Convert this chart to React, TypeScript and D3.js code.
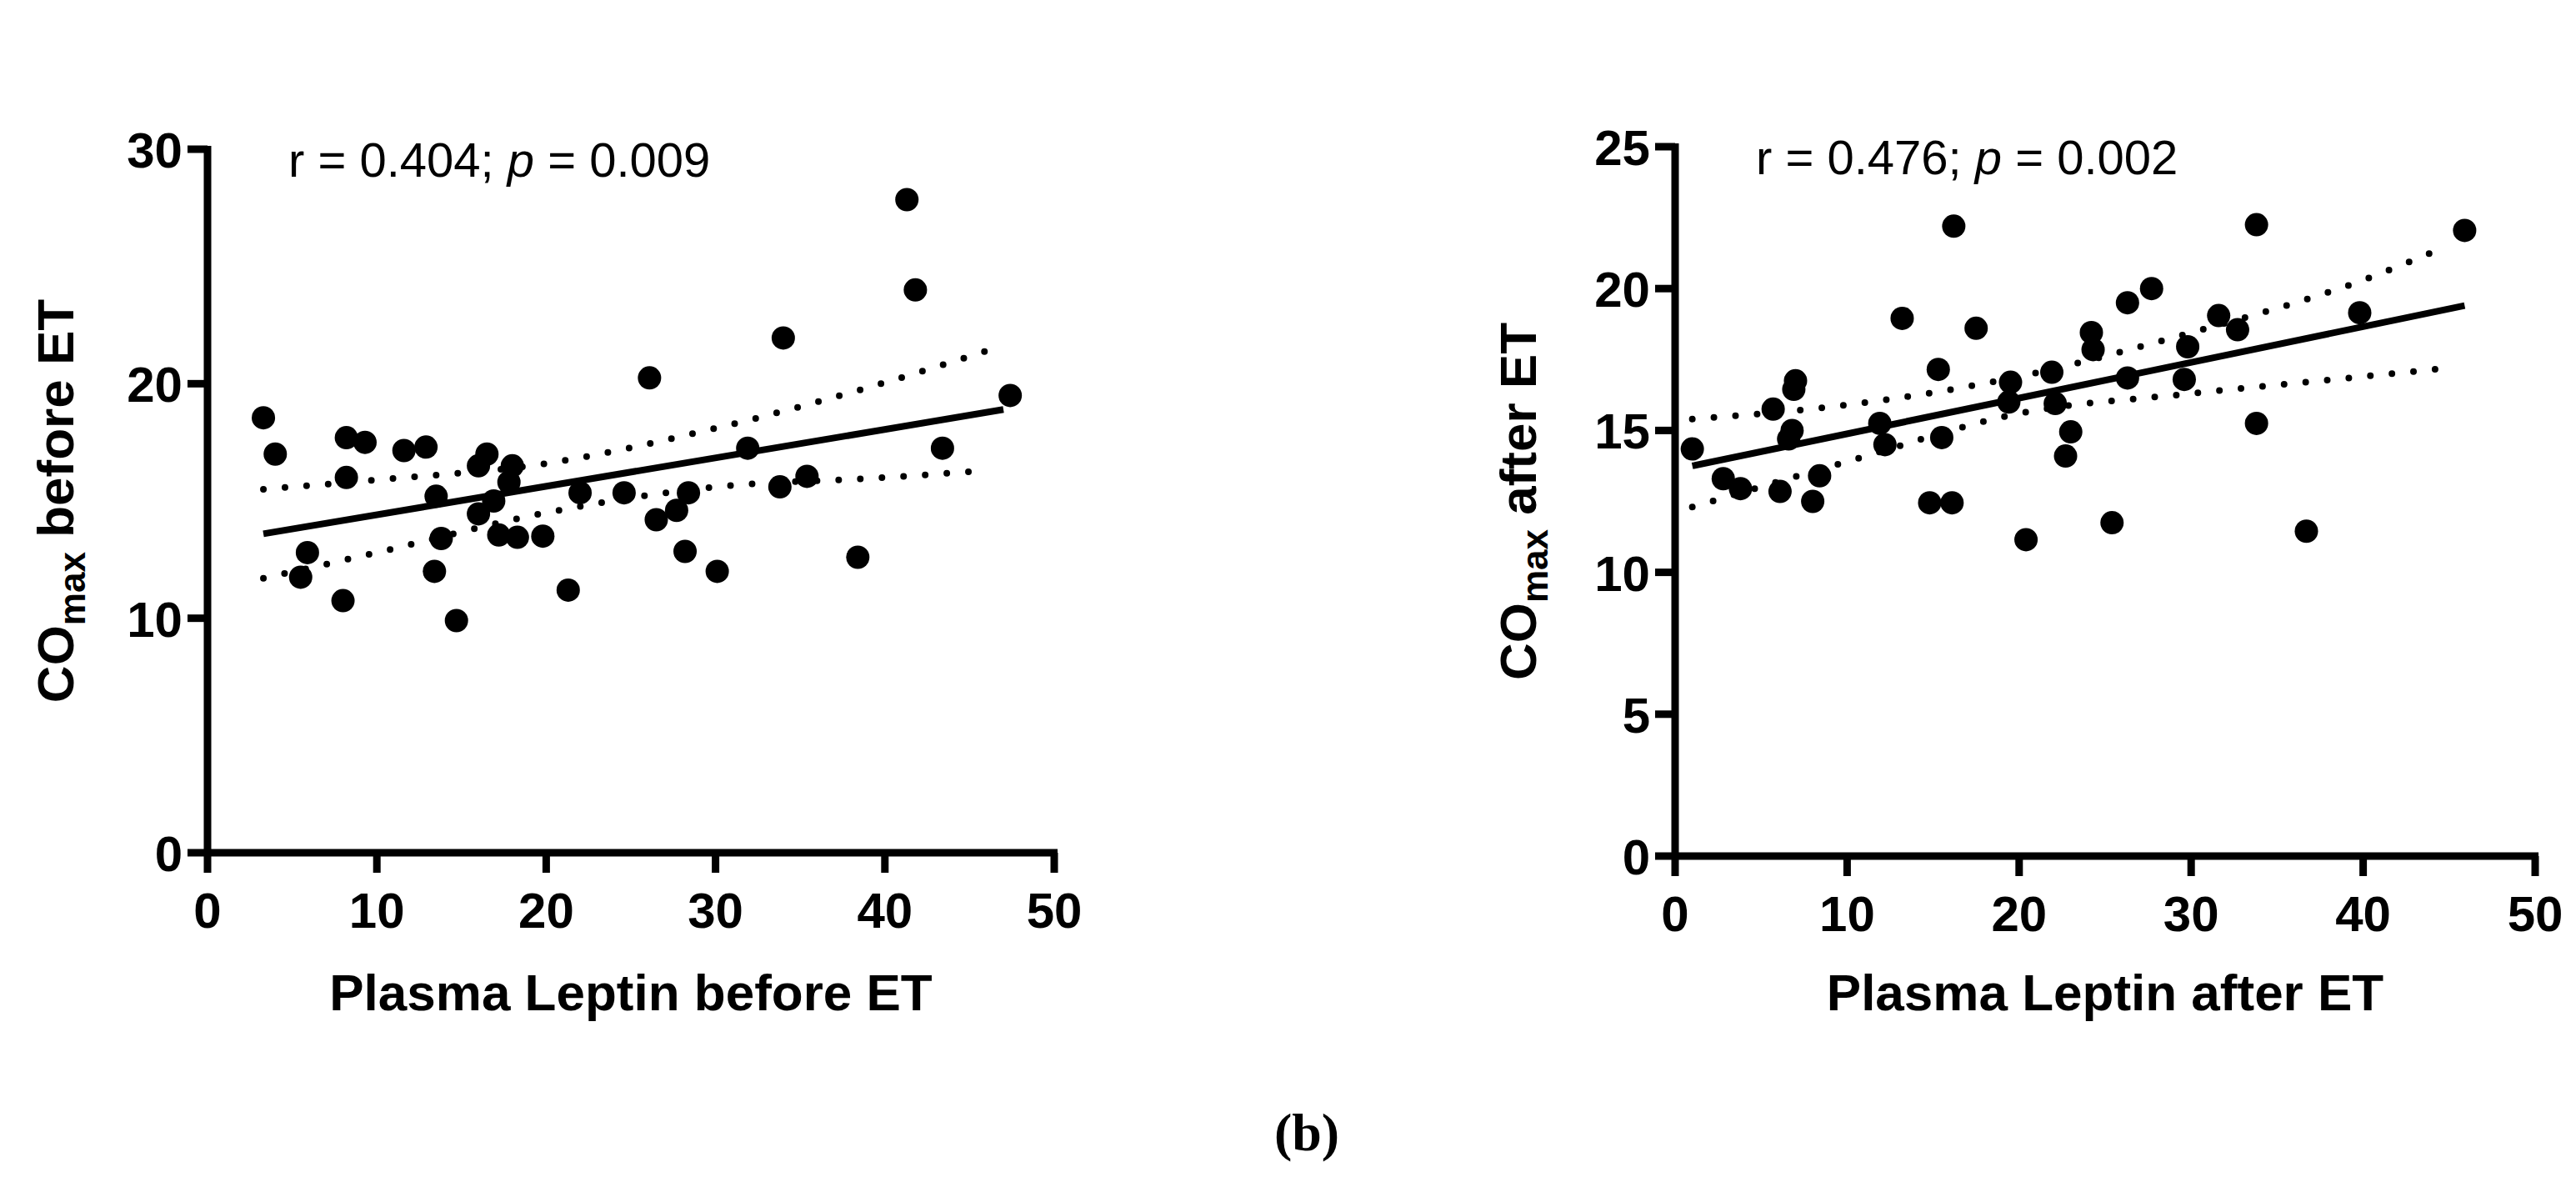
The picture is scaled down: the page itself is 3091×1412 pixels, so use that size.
import React from 'react';
import * as d3 from 'd3';

// before ET
const leptinBefore = [3.3, 4.0, 5.9, 5.5, 8.0, 8.2, 8.2, 9.3, 11.6, 12.9, 13.5, 13.8, 13.4, 14.7, 16.0, 16.5, 16.0, 16.9, 17.2, 18.0, 17.8, 18.3, 19.8, 21.3, 22.0, 24.6, 26.1, 26.5, 27.7, 28.2, 28.4, 30.1, 31.9, 33.8, 34.0, 35.4, 38.4, 41.3, 41.8, 43.4, 47.4];
const coBefore = [18.55, 17.0, 12.8, 11.75, 10.75, 17.7, 16.0, 17.5, 17.15, 17.3, 15.2, 13.4, 12.0, 9.9, 16.5, 17.0, 14.45, 15.0, 13.55, 16.5, 15.8, 13.45, 13.5, 11.2, 15.35, 15.35, 20.25, 14.2, 14.6, 12.85, 15.35, 12.0, 17.25, 15.6, 21.95, 16.05, 12.6, 27.85, 24.0, 17.25, 19.5];
const fitBefore: [number, number][] = [[3.3, 13.6], [47, 18.9]];
const upperBefore: [number, number][] = [[3.3, 15.5], [10, 15.9], [20, 16.6], [30, 18.1], [40, 20.05], [46, 21.4]];
const lowerBefore: [number, number][] = [[3.3, 11.7], [10, 12.8], [20, 14.5], [30, 15.6], [40, 16.0], [46, 16.3]];

// after ET
const leptinAfter = [1.0, 2.8, 3.8, 5.7, 6.1, 7.0, 6.9, 6.8, 6.6, 8.0, 8.4, 11.9, 12.2, 13.2, 14.8, 15.3, 15.5, 16.2, 16.1, 17.5, 19.5, 19.4, 20.4, 21.9, 22.1, 22.7, 23.0, 24.2, 24.3, 25.4, 26.3, 26.3, 27.7, 29.6, 29.8, 31.6, 32.7, 33.8, 33.8, 36.7, 39.8, 45.9];
const coAfter = [14.35, 13.3, 12.95, 15.75, 12.85, 16.75, 16.45, 15.0, 14.7, 12.5, 13.4, 15.25, 14.5, 18.95, 12.45, 17.15, 14.75, 22.2, 12.45, 18.6, 16.7, 16.0, 11.15, 17.05, 15.95, 14.1, 14.95, 18.45, 17.85, 11.75, 19.5, 16.85, 20.0, 16.8, 17.95, 19.05, 18.55, 22.25, 15.25, 11.45, 19.15, 22.05];
const fitAfter: [number, number][] = [[1, 13.75], [45.9, 19.4]];
const upperAfter: [number, number][] = [[1, 15.4], [10, 15.9], [20, 16.9], [30, 18.45], [40, 20.3], [44.9, 21.5]];
const lowerAfter: [number, number][] = [[1, 12.3], [10, 13.9], [20, 15.6], [30, 16.3], [40, 16.9], [44.9, 17.2]];

const xTicks = [0, 10, 20, 30, 40, 50];
const yTicksBefore = [0, 10, 20, 30];
const yTicksAfter = [0, 5, 10, 15, 20, 25];

const FONT = '"Liberation Sans", Arial, sans-serif';

interface PanelProps {
  x0: number; x1: number; yTop: number; yBottom: number;
  yMax: number; yTicks: number[];
  xs: number[]; ys: number[];
  fit: [number, number][]; upper: [number, number][]; lower: [number, number][];
  stat: [string, string]; yLabelX: number; xTitle: string; yTitleRest: string;
}

const Panel: React.FC<PanelProps> = (p) => {
  const x = d3.scaleLinear().domain([0, 50]).range([p.x0, p.x1]);
  const y = d3.scaleLinear().domain([0, p.yMax]).range([p.yBottom, p.yTop]);
  const line = d3.line<[number, number]>().x(d => x(d[0])).y(d => y(d[1])).curve(d3.curveMonotoneX);
  const midY = (p.yTop + p.yBottom) / 2;
  const midX = (p.x0 + p.x1) / 2;
  return (
    <g fontFamily={FONT}>
      <path d={line(p.upper) || ''} fill="none" stroke="#000" strokeWidth={8} strokeLinecap="round" strokeDasharray="0 26" />
      <path d={line(p.lower) || ''} fill="none" stroke="#000" strokeWidth={8} strokeLinecap="round" strokeDasharray="0 26" />
      <path d={line(p.fit) || ''} fill="none" stroke="#000" strokeWidth={8} />
      {p.xs.map((v, i) => (
        <circle key={i} cx={x(v)} cy={y(p.ys[i])} r={14} fill="#000" />
      ))}
      <line x1={p.x0} x2={p.x1 + 4} y1={p.yBottom} y2={p.yBottom} stroke="#000" strokeWidth={9} />
      <line x1={p.x0} x2={p.x0} y1={p.yTop - 4} y2={p.yBottom + 4} stroke="#000" strokeWidth={9} />
      {xTicks.map(t => (
        <g key={t}>
          <line x1={x(t)} x2={x(t)} y1={p.yBottom} y2={p.yBottom + 24} stroke="#000" strokeWidth={9} />
          <text x={x(t)} y={p.yBottom + 90} textAnchor="middle" fontSize={60} fontWeight="bold">{t}</text>
        </g>
      ))}
      {p.yTicks.map(t => (
        <g key={t}>
          <line x1={p.x0 - 24} x2={p.x0} y1={y(t)} y2={y(t)} stroke="#000" strokeWidth={9} />
          <text x={p.x0 - 30} y={y(t) + 22} textAnchor="end" fontSize={60} fontWeight="bold">{t}</text>
        </g>
      ))}
      <text x={midX} y={1212} textAnchor="middle" fontSize={62} fontWeight="bold">{p.xTitle}</text>
      <text transform={`translate(${p.yLabelX},${midY}) rotate(-90)`} textAnchor="middle" fontSize={62} fontWeight="bold">
        CO<tspan fontSize={44} dy={14}>max</tspan><tspan dy={-14}>{' ' + p.yTitleRest}</tspan>
      </text>
      <text x={p.x0 + 97} y={p.yTop + 33} fontSize={58}>
        {p.stat[0]}<tspan fontStyle="italic">p</tspan>{p.stat[1]}
      </text>
    </g>
  );
};

export default function App() {
  return (
    <svg width={3091} height={1412} style={{ position: 'absolute', left: 0, top: 0, background: '#fff' }}>
      <rect width={3091} height={1412} fill="#fff" />
      <Panel x0={249} x1={1265} yTop={179} yBottom={1023} yMax={30} yTicks={yTicksBefore}
        xs={leptinBefore} ys={coBefore} fit={fitBefore} upper={upperBefore} lower={lowerBefore}
        stat={['r = 0.404; ', ' = 0.009']} yLabelX={88} xTitle="Plasma Leptin before ET" yTitleRest="before ET" />
      <Panel x0={2010} x1={3042} yTop={176} yBottom={1027} yMax={25} yTicks={yTicksAfter}
        xs={leptinAfter} ys={coAfter} fit={fitAfter} upper={upperAfter} lower={lowerAfter}
        stat={['r = 0.476; ', ' = 0.002']} yLabelX={1843} xTitle="Plasma Leptin after ET" yTitleRest="after ET" />
      <text x={1568} y={1380} textAnchor="middle" fontSize={64} fontWeight="bold" fontFamily='"Liberation Serif", serif'>(b)</text>
    </svg>
  );
}
